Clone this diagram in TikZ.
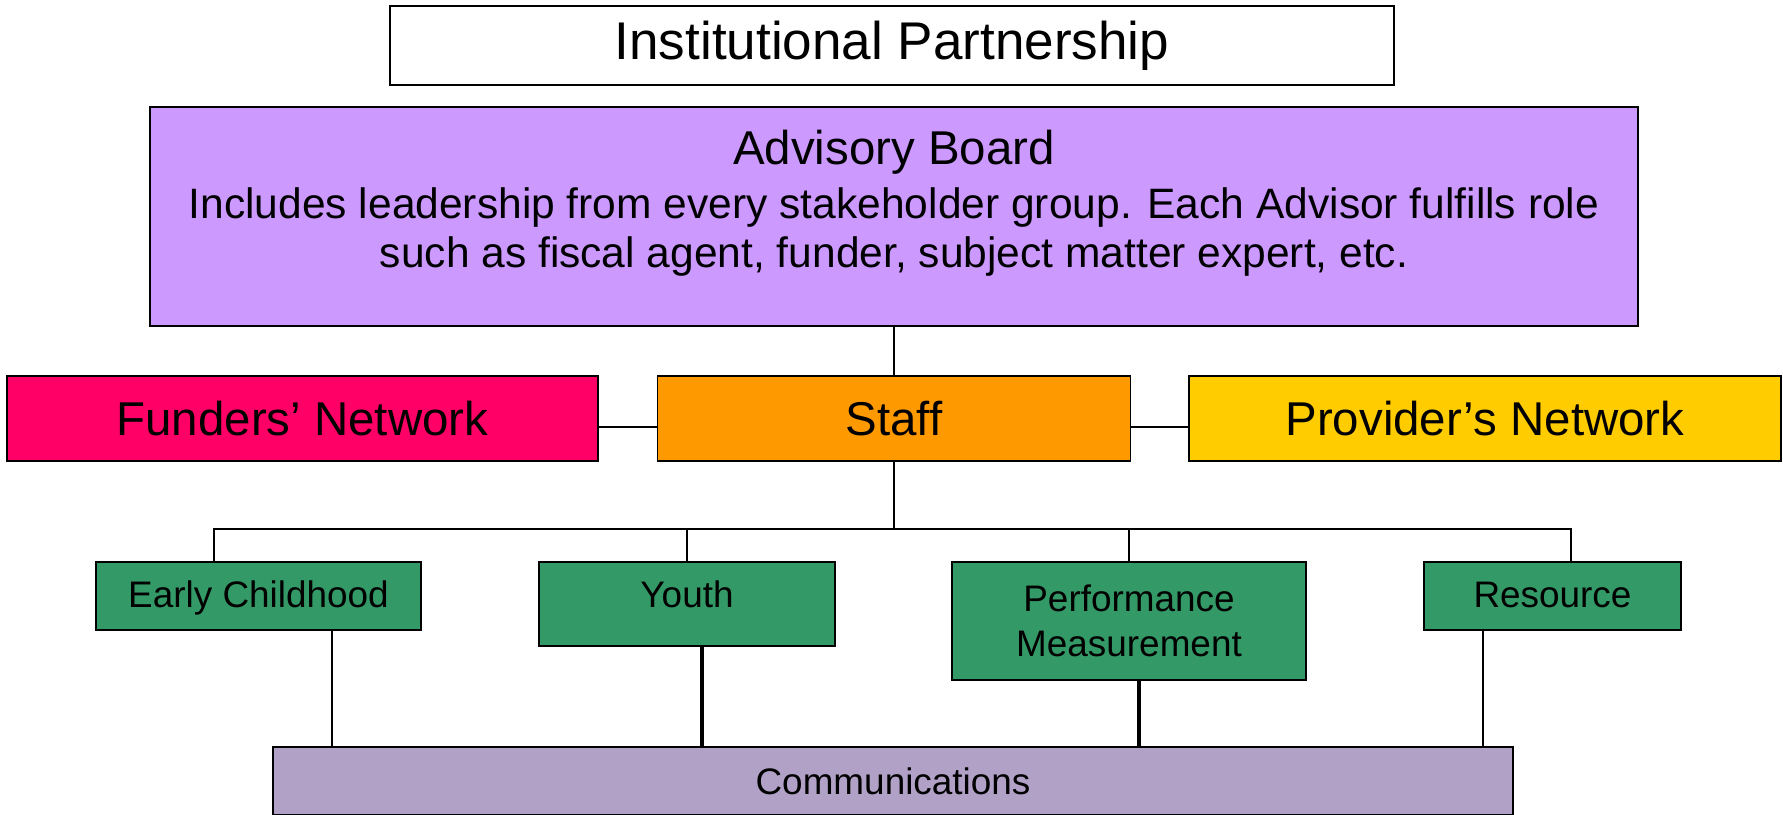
\documentclass[tikz,border=0pt]{standalone}
\usepackage{fontspec}
\setmainfont{Liberation Sans}
\usepackage{tikz}
\usetikzlibrary{calc}

\definecolor{boardpurple}{HTML}{CC99FF}
\definecolor{fundpink}{HTML}{FF0066}
\definecolor{stafforange}{HTML}{FF9900}
\definecolor{provyellow}{HTML}{FFCC00}
\definecolor{teamgreen}{HTML}{339966}
\definecolor{commlilac}{HTML}{B2A1C7}

\begin{document}
\begin{tikzpicture}[
    box/.style={draw=black,line width=0.5pt,inner sep=0pt,align=center},
    netbox/.style={box,minimum height=0.85cm,font=\fontsize{13.5}{16}\selectfont},
    team/.style={box,fill=teamgreen,font=\fontsize{10.5}{12.9}\selectfont},
    oneline/.style={team,text height=0.27cm,text depth=0.03cm},
    link/.style={line width=0.4pt},
    biglink/.style={line width=1pt}]
    \useasboundingbox (0,0) rectangle (17.83,8.15);

    \node[box,fill=white,minimum width=10.04cm,minimum height=0.79cm,font=\fontsize{15.1}{18}\selectfont] (inst) at (8.92,7.695) {Institutional Partnership};

    \node[box,fill=boardpurple,minimum width=14.88cm,minimum height=2.19cm] (adv) at (8.94,5.985) {};
    \node[anchor=north,inner sep=0pt,align=center,font=\fontsize{12.1}{13.9}\selectfont] (advtext) at ([yshift=-0.23cm]adv.north)
        {{\fontsize{13.5}{16}\selectfont Advisory Board}\\[1.5pt]
         Includes leadership from every stakeholder group. Each Advisor fulfills role\\
         such as fiscal agent, funder, subject matter expert, etc.};

    \node[netbox,fill=fundpink,minimum width=5.91cm] (fund) at (3.025,3.965) {Funders’ Network};
    \node[netbox,fill=stafforange,minimum width=4.73cm] (staff) at (8.94,3.965) {Staff};
    \node[netbox,fill=provyellow,minimum width=5.92cm] (prov) at (14.85,3.965) {Provider’s Network};

    \node[oneline,minimum width=3.25cm,minimum height=0.68cm] (early) at (2.585,2.19) {Early Childhood};
    \node[oneline,minimum width=2.96cm,minimum height=0.84cm,text depth=0.19cm] (youth) at (6.87,2.11) {Youth};
    \node[team,minimum width=3.54cm,minimum height=1.18cm] (perf) at (11.29,1.94) {Performance\\Measurement};
    \node[oneline,minimum width=2.57cm,minimum height=0.68cm] (res) at (15.525,2.19) {Resource};

    \node[box,fill=commlilac,minimum width=12.4cm,minimum height=0.68cm,font=\fontsize{10.5}{12.9}\selectfont] (comm) at (8.93,0.34) {Communications};

    % board and networks
    \draw[link] (adv.south) -- (staff.north);
    \draw[link] ([yshift=-0.085cm]fund.east) -- ([yshift=-0.085cm]staff.west);
    \draw[link] ([yshift=-0.085cm]staff.east) -- ([yshift=-0.085cm]prov.west);

    % bus to the teams
    \coordinate (busL) at (2.14,2.86);
    \coordinate (busR) at (15.71,2.86);
    \draw[link] (staff.south) -- (staff.south |- busL);
    \draw[link] (busL |- early.north) -- (busL) -- (busR) -- (busR |- res.north);
    \draw[link] (youth.north) -- (youth.north |- busL);
    \draw[link] (perf.north) -- (perf.north |- busL);

    % teams down to communications
    \coordinate (earlydrop) at ([xshift=0.735cm]early.south);
    \coordinate (youthdrop) at ([xshift=0.15cm]youth.south);
    \coordinate (perfdrop) at ([xshift=0.10cm]perf.south);
    \coordinate (resdrop) at ([xshift=-0.695cm]res.south);
    \draw[link] (earlydrop) -- (earlydrop |- comm.north);
    \draw[biglink] (youthdrop) -- (youthdrop |- comm.north);
    \draw[biglink] (perfdrop) -- (perfdrop |- comm.north);
    \draw[link] (resdrop) -- (resdrop |- comm.north);
\end{tikzpicture}
\end{document}
